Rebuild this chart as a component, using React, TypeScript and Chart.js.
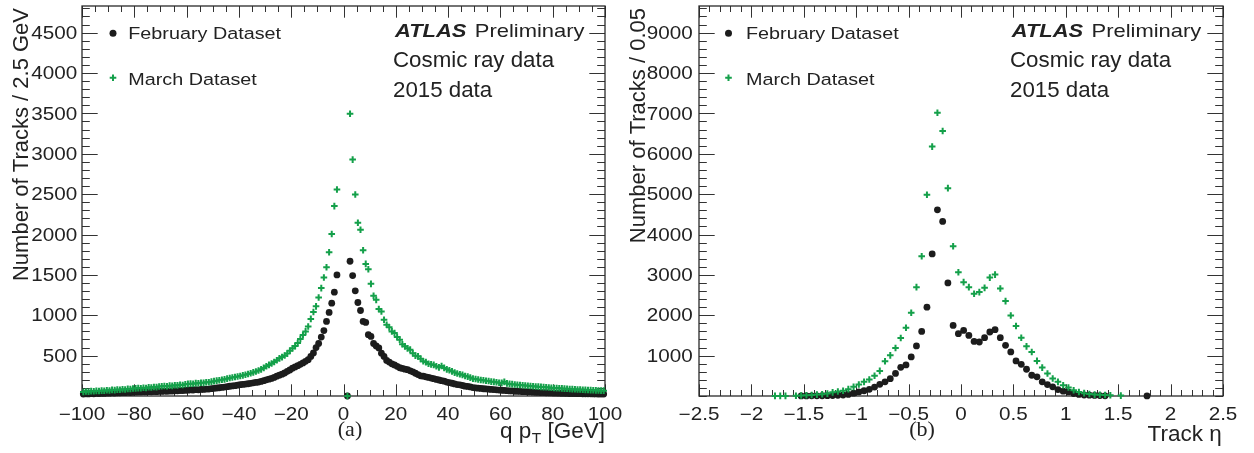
import React, { useEffect, useRef } from "react";
import { Chart, registerables } from "chart.js";
Chart.register(...registerables);

const W = 1254;
const H = 453;

// ---------- Panel (a): q pT, 1 GeV bins from -100 to 100 ----------
const ptCenters = Array.from({ length: 200 }, (_, i) => -99.5 + i);

const febPt: (number | null)[] = [
  25, 28, 26, 30, 28, 32, 31, 33, 32, 36,
  35, 38, 36, 40, 39, 42, 41, 44, 43, 46,
  47, 49, 48, 51, 50, 53, 52, 55, 54, 58,
  57, 60, 59, 62, 62, 65, 64, 68, 67, 71,
  72, 75, 74, 78, 77, 82, 81, 86, 86, 91,
  95, 99, 102, 106, 110, 116, 121, 125, 128, 134,
  140, 143, 148, 152, 157, 163, 168, 172, 180, 190,
  200, 208, 218, 230, 245, 258, 270, 285, 305, 322,
  345, 360, 375, 392, 410, 430, 450, 490, 533, 600,
  650, 730, 810, 924, 1035, 1150, 1286, 1500,
  null, null, null, 0,
  1669, 1491, 1302, 1158, 1059, 924, 911, 759, 738, 650,
  620, 595, 530, 490, 440, 420, 398, 385, 368, 350,
  342, 332, 326, 312, 300, 282, 265, 250, 245, 238,
  230, 222, 215, 205, 198, 190, 183, 172, 165, 158,
  150, 142, 138, 130, 122, 118, 112, 104, 100, 97,
  94, 90, 88, 84, 82, 79, 76, 73, 71, 69,
  66, 63, 63, 59, 58, 57, 53, 53, 50, 50,
  47, 46, 44, 43, 42, 40, 39, 38, 37, 36,
  35, 34, 33, 32, 31, 31, 30, 29, 29, 28,
  28, 27, 27, 26, 26, 25, 25, 24,
];

const marPt: (number | null)[] = [
  50, 56, 53, 60, 58, 64, 61, 67, 65, 71,
  69, 76, 73, 79, 77, 84, 81, 88, 86, 93,
  95, 98, 96, 103, 100, 108, 105, 112, 110, 117,
  120, 123, 121, 128, 126, 133, 131, 139, 137, 145,
  150, 153, 151, 159, 157, 165, 163, 171, 170, 178,
  184, 190, 195, 202, 206, 215, 222, 230, 236, 242,
  248, 256, 264, 272, 282, 292, 303, 316, 330, 348,
  368, 385, 402, 422, 442, 466, 482, 502, 525, 560,
  592, 618, 655, 705, 755, 800, 860, 955, 1040, 1110,
  1220, 1336, 1467, 1595, 1780, 2006, 2352, 2558,
  null, null, null, 0,
  3496, 2928, 2496, 2146, 2059, 1805, 1636, 1570, 1389, 1241,
  1191, 1077, 1047, 944, 883, 850, 800, 780, 730, 698,
  640, 615, 590, 574, 530, 500, 491, 460, 430, 420,
  400, 392, 385, 368, 355, 372, 348, 330, 318, 305,
  290, 278, 270, 262, 248, 240, 228, 215, 210, 205,
  198, 195, 188, 185, 178, 175, 170, 165, 162, 175,
  156, 150, 147, 143, 140, 136, 133, 130, 127, 124,
  121, 118, 116, 113, 110, 108, 105, 103, 100, 98,
  96, 94, 91, 89, 87, 85, 83, 81, 80, 78,
  76, 75, 73, 72, 70, 69, 67, 66,
];

const ptTickValues = [-100, -80, -60, -40, -20, 0, 20, 40, 60, 80, 100];
const ptTickLabels = ["\u2212100", "\u221280", "\u221260", "\u221240", "\u221220", "0", "20", "40", "60", "80", "100"];
const countTickValuesA = [500, 1000, 1500, 2000, 2500, 3000, 3500, 4000, 4500];
const countTickLabelsA = ["500", "1000", "1500", "2000", "2500", "3000", "3500", "4000", "4500"];

// ---------- Panel (b): track eta, 0.05 bins ----------
const etaCenters = Array.from({ length: 72 }, (_, i) => +(-1.775 + 0.05 * i).toFixed(3));

const febEta: (number | null)[] = [
  null, null, null, null, null, 3, 3, 4, 5, 6,
  8, 12, 18, 25, 40, 70, 100, 130, 165, 220,
  290, 350, 430, 560, 710, 770, 968, 1240, 1600, 2200,
  3518, 4612, 4325, 2800, 1748, 1543, 1625, 1501, 1353, 1338,
  1444, 1585, 1642, 1444, 1254, 1091, 869, 785, 662, 514,
  474, 350, 284, 227, 160, 120, 100, 60, 40, 25,
  20, 15, 10, 5, null, null, null, null, null, null,
  null, 3,
];

const marEta: (number | null)[] = [
  3, 3, 3, null, 8, 12, 18, 25, 35, 45,
  60, 90, 110, 130, 170, 227, 284, 350, 407, 500,
  622, 860, 1007, 1190, 1437, 1691, 2062, 2696, 3462, 4983,
  6178, 7017, 6563, 5148, 3709, 3067, 2820, 2696, 2531, 2573,
  2679, 2933, 3007, 2662, 2351, 1995, 1733, 1444, 1230, 1091,
  869, 704, 556, 432, 350, 267, 210, 143, 100, 70,
  50, 35, 30, 25, 20, null, 10, null, null, null,
  null, null,
];

const etaTickValues = [-2.5, -2, -1.5, -1, -0.5, 0, 0.5, 1, 1.5, 2, 2.5];
const etaTickLabels = ["\u22122.5", "\u22122", "\u22121.5", "\u22121", "\u22120.5", "0", "0.5", "1", "1.5", "2", "2.5"];
const countTickValuesB = [1000, 2000, 3000, 4000, 5000, 6000, 7000, 8000, 9000];
const countTickLabelsB = ["1000", "2000", "3000", "4000", "5000", "6000", "7000", "8000", "9000"];

const seriesNames = ["February Dataset", "March Dataset"];
const atlasLines = ["Cosmic ray data", "2015 data"];

// ---------- styling ----------
const BLACK = "#1c1c1c";
const GREEN = "#14a04a";
const TEXT = "#222222";
const SANS = '"Liberation Sans", Arial, Helvetica, sans-serif';
const SERIF = '"Liberation Serif", "DejaVu Serif", serif';

function toXY(xs: number[], ys: (number | null)[]) {
  const out: { x: number; y: number }[] = [];
  xs.forEach((x, i) => {
    const y = ys[i];
    if (y !== null && y !== undefined) out.push({ x, y });
  });
  return out;
}

function drawText(
  ctx: CanvasRenderingContext2D,
  s: string,
  x: number,
  y: number,
  font: string,
  align: "left" | "right" | "center" = "left",
  sx = 1
) {
  ctx.save();
  ctx.font = font;
  ctx.fillStyle = TEXT;
  ctx.textBaseline = "alphabetic";
  ctx.textAlign = "left";
  const w = ctx.measureText(s).width * sx;
  const x0 = align === "right" ? x - w : align === "center" ? x - w / 2 : x;
  ctx.translate(x0, y);
  ctx.scale(sx, 1);
  ctx.fillText(s, 0, 0);
  ctx.restore();
  return w;
}

function textWidth(ctx: CanvasRenderingContext2D, s: string, font: string, sx = 1) {
  ctx.save();
  ctx.font = font;
  const w = ctx.measureText(s).width * sx;
  ctx.restore();
  return w;
}

interface Panel {
  area: { left: number; right: number; top: number; bottom: number };
  xMin: number;
  xMax: number;
  yMax: number;
  xs: number[];
  feb: (number | null)[];
  mar: (number | null)[];
  xTicks: number[];
  xLabels: string[];
  xMinorStep: number;
  yTicks: number[];
  yLabels: string[];
  yMinorStep: number;
  yLabelRight: number;
  xLabelBase: number;
  yTitle: string;
  yTitleBase: number;
  xTitleDraw: (ctx: CanvasRenderingContext2D) => void;
  tag: string;
  tagX: number;
  legendDotX: number;
  legendTextX: number;
  atlasX: number;
  infoX: number;
}

function drawCross(ctx: CanvasRenderingContext2D, x: number, y: number, r: number) {
  ctx.save();
  ctx.strokeStyle = GREEN;
  ctx.lineWidth = 2;
  ctx.beginPath();
  ctx.moveTo(x - r, y);
  ctx.lineTo(x + r, y);
  ctx.moveTo(x, y - r);
  ctx.lineTo(x, y + r);
  ctx.stroke();
  ctx.restore();
}

function makeConfig(p: Panel): any {
  const decor = {
    id: "decor",
    beforeDatasetsDraw(chart: any) {
      const ctx: CanvasRenderingContext2D = chart.ctx;
      const { left, right, top, bottom } = chart.chartArea;
      const xs = chart.scales.x;
      const ys = chart.scales.y;
      ctx.save();
      ctx.strokeStyle = "#333333";
      ctx.lineWidth = 1;
      // minor ticks x
      const nx = Math.round((p.xMax - p.xMin) / p.xMinorStep);
      ctx.beginPath();
      for (let i = 0; i <= nx; i++) {
        const v = p.xMin + i * p.xMinorStep;
        const px = Math.round(xs.getPixelForValue(v)) + 0.5;
        ctx.moveTo(px, bottom);
        ctx.lineTo(px, bottom - 6);
        ctx.moveTo(px, top);
        ctx.lineTo(px, top + 6);
      }
      for (const v of p.xTicks) {
        const px = Math.round(xs.getPixelForValue(v)) + 0.5;
        ctx.moveTo(px, bottom);
        ctx.lineTo(px, bottom - 11.7);
        ctx.moveTo(px, top);
        ctx.lineTo(px, top + 11.7);
      }
      const ny = Math.round(p.yMax / p.yMinorStep);
      for (let i = 0; i <= ny; i++) {
        const v = i * p.yMinorStep;
        const py = Math.round(ys.getPixelForValue(v)) + 0.5;
        ctx.moveTo(left, py);
        ctx.lineTo(left + 7.8, py);
        ctx.moveTo(right, py);
        ctx.lineTo(right - 7.8, py);
      }
      for (const v of p.yTicks) {
        const py = Math.round(ys.getPixelForValue(v)) + 0.5;
        ctx.moveTo(left, py);
        ctx.lineTo(left + 15.7, py);
        ctx.moveTo(right, py);
        ctx.lineTo(right - 15.7, py);
      }
      ctx.stroke();
      ctx.lineWidth = 1.3;
      ctx.strokeStyle = "#2a2a2a";
      ctx.strokeRect(left, top, right - left, bottom - top);
      ctx.restore();
    },
    afterDraw(chart: any) {
      const ctx: CanvasRenderingContext2D = chart.ctx;
      const xs = chart.scales.x;
      const ys = chart.scales.y;
      const tickFont = `17.5px ${SANS}`;
      p.xTicks.forEach((v, i) => {
        drawText(ctx, p.xLabels[i], xs.getPixelForValue(v), p.xLabelBase, tickFont, "center", 1.18);
      });
      p.yTicks.forEach((v, i) => {
        drawText(ctx, p.yLabels[i], p.yLabelRight, ys.getPixelForValue(v) + 6.2, tickFont, "right", 1.18);
      });
      // y title (rotated)
      ctx.save();
      ctx.translate(p.yTitleBase, 8);
      ctx.rotate(-Math.PI / 2);
      drawText(ctx, p.yTitle, 0, 0, `22px ${SANS}`, "right", 1);
      ctx.restore();
      // x title
      p.xTitleDraw(ctx);
      // panel tag
      drawText(ctx, p.tag, p.tagX, 436, `21px ${SERIF}`, "center", 1.05);
      // legend
      ctx.save();
      ctx.fillStyle = BLACK;
      ctx.beginPath();
      ctx.arc(p.legendDotX, 33.3, 3.5, 0, Math.PI * 2);
      ctx.fill();
      ctx.restore();
      drawCross(ctx, p.legendDotX, 77.7, 3.3);
      const legFont = `17.2px ${SANS}`;
      drawText(ctx, seriesNames[0], p.legendTextX, 39, legFont, "left", 1.15);
      drawText(ctx, seriesNames[1], p.legendTextX, 84.5, legFont, "left", 1.15);
      // ATLAS label
      const aw = drawText(ctx, "ATLAS", p.atlasX, 37.3, `italic bold 18.6px ${SANS}`, "left", 1.18);
      drawText(ctx, "Preliminary", p.atlasX + aw + 8.3, 37.3, `18.6px ${SANS}`, "left", 1.18);
      drawText(ctx, atlasLines[0], p.infoX, 66.7, `22.3px ${SANS}`, "left", 1);
      drawText(ctx, atlasLines[1], p.infoX, 96.7, `22.3px ${SANS}`, "left", 1);
    },
  };

  const a = p.area;
  return {
    type: "scatter",
    data: {
      datasets: [
        {
          label: seriesNames[1],
          data: toXY(p.xs, p.mar),
          pointStyle: "cross",
          pointRadius: 3.3,
          borderColor: GREEN,
          backgroundColor: GREEN,
          borderWidth: 2,
          showLine: false,
          clip: 12,
          order: 0,
        },
        {
          label: seriesNames[0],
          data: toXY(p.xs, p.feb),
          pointStyle: "circle",
          pointRadius: 3.4,
          backgroundColor: BLACK,
          borderColor: BLACK,
          borderWidth: 0,
          showLine: false,
          clip: 12,
          order: 1,
        },
      ],
    },
    options: {
      responsive: false,
      animation: false,
      devicePixelRatio: 1,
      events: [],
      layout: { padding: { left: 0, top: a.top, right: W - a.right, bottom: 0 } },
      plugins: { legend: { display: false }, tooltip: { enabled: false } },
      scales: {
        x: {
          type: "linear",
          min: p.xMin,
          max: p.xMax,
          grid: { display: false, drawTicks: false },
          border: { display: false },
          ticks: { display: false },
          afterFit(scale: any) {
            scale.height = H - a.bottom;
          },
        },
        y: {
          type: "linear",
          min: 0,
          max: p.yMax,
          grid: { display: false, drawTicks: false },
          border: { display: false },
          ticks: { display: false },
          afterFit(scale: any) {
            scale.width = a.left;
          },
        },
      },
    },
    plugins: [decor],
  };
}

const panelA: Panel = {
  area: { left: 82, right: 605, top: 6, bottom: 396 },
  xMin: -100,
  xMax: 100,
  yMax: 4830,
  xs: ptCenters,
  feb: febPt,
  mar: marPt,
  xTicks: ptTickValues,
  xLabels: ptTickLabels,
  xMinorStep: 5,
  yTicks: countTickValuesA,
  yLabels: countTickLabelsA,
  yMinorStep: 100,
  yLabelRight: 77.3,
  xLabelBase: 420,
  yTitle: "Number of Tracks / 2.5 GeV",
  yTitleBase: 28.3,
  xTitleDraw: (ctx) => {
    const f = `22.5px ${SANS}`;
    const right = 605;
    const gev = " [GeV]";
    const wG = textWidth(ctx, gev, f);
    const wT = textWidth(ctx, "T", `15.5px ${SANS}`);
    const xG = right - wG;
    const xT = xG - wT;
    drawText(ctx, "T", xT, 443, `15.5px ${SANS}`, "left");
    drawText(ctx, gev, xG, 437.5, f, "left");
    drawText(ctx, "q p", xT - 0.5, 437.5, f, "right");
  },
  tag: "(a)",
  tagX: 350,
  legendDotX: 113,
  legendTextX: 128.3,
  atlasX: 395,
  infoX: 393,
};

const panelB: Panel = {
  area: { left: 699, right: 1223, top: 6, bottom: 396 },
  xMin: -2.5,
  xMax: 2.5,
  yMax: 9660,
  xs: etaCenters,
  feb: febEta,
  mar: marEta,
  xTicks: etaTickValues,
  xLabels: etaTickLabels,
  xMinorStep: 0.1,
  yTicks: countTickValuesB,
  yLabels: countTickLabelsB,
  yMinorStep: 200,
  yLabelRight: 692.7,
  xLabelBase: 419.5,
  yTitle: "Number of Tracks / 0.05",
  yTitleBase: 645,
  xTitleDraw: (ctx) => {
    drawText(ctx, "Track \u03B7", 1221.7, 441, `22.5px ${SANS}`, "right");
  },
  tag: "(b)",
  tagX: 922,
  legendDotX: 728.5,
  legendTextX: 746,
  atlasX: 1011.7,
  infoX: 1010,
};

export default function App() {
  const leftRef = useRef<HTMLCanvasElement>(null);
  const rightRef = useRef<HTMLCanvasElement>(null);
  useEffect(() => {
    const c1 = new Chart(leftRef.current as HTMLCanvasElement, makeConfig(panelA));
    const c2 = new Chart(rightRef.current as HTMLCanvasElement, makeConfig(panelB));
    return () => {
      c1.destroy();
      c2.destroy();
    };
  }, []);
  return (
    <div style={{ position: "fixed", left: 0, top: 0, width: W, height: H, background: "#ffffff" }}>
      <canvas ref={leftRef} width={W} height={H} style={{ position: "absolute", left: 0, top: 0 }} />
      <canvas ref={rightRef} width={W} height={H} style={{ position: "absolute", left: 0, top: 0 }} />
    </div>
  );
}
